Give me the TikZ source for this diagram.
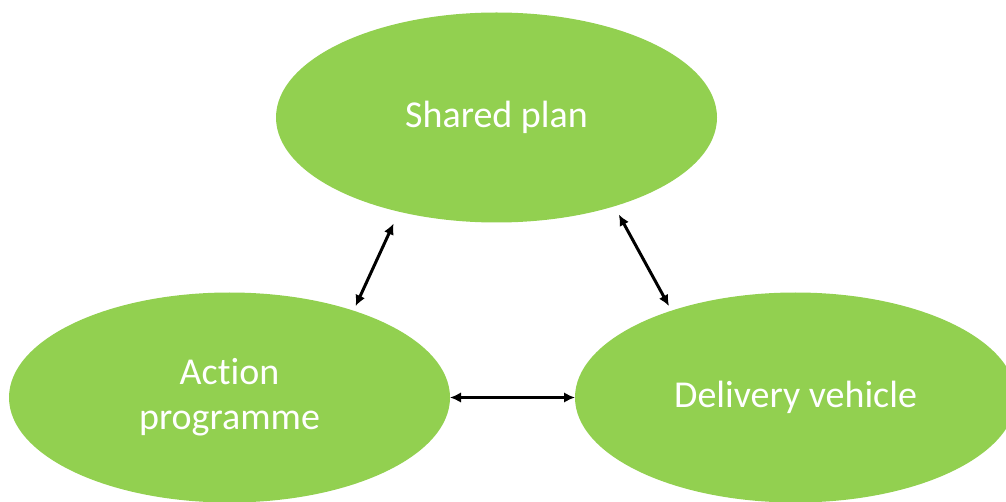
\documentclass[tikz,border=0pt]{standalone}
\usepackage{fontspec}
\setmainfont{Carlito}[Ligatures=NoCommon]
\usetikzlibrary{shapes.geometric,arrows.meta}
\definecolor{leafgreen}{HTML}{92D050}

\begin{document}
\begin{tikzpicture}[x=1pt,y=-1pt,>={Latex[length=11pt,width=10.5pt]},
  blob/.style={ellipse,fill=leafgreen,draw=none,outer sep=0pt,inner sep=0pt,
    minimum width=441pt,minimum height=210pt,text=white,align=center,
    font=\fontsize{38}{45}\selectfont},
  link/.style={<->,line width=3pt}]
\useasboundingbox (0,0) rectangle (1006,502);
\clip (0,0) rectangle (1006,502);
\node[blob] (plan) at (496.5,117.5) {Shared plan};
\node[blob] (action) at (229.5,397.5) {Action\\programme};
\node[blob] (vehicle) at (795.5,397.5) {Delivery vehicle};
\draw[link,shorten <=13pt,shorten >=5pt] (plan.-136) -- (action.35.4);
\draw[link,shorten <=9.5pt,shorten >=5.3pt] (plan.-37) -- (vehicle.145.75);
\draw[link] (action.east) -- (vehicle.west);
\end{tikzpicture}
\end{document}
